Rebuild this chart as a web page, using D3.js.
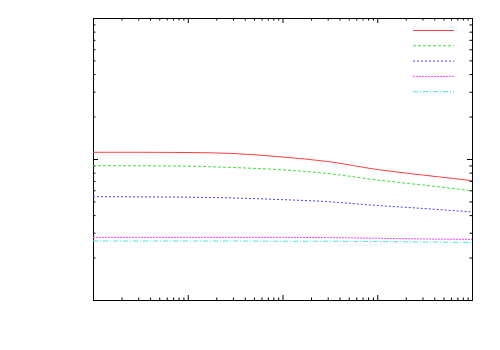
<!DOCTYPE html>
<html>
<head>
<meta charset="utf-8">
<script src="https://cdn.jsdelivr.net/npm/d3@7"></script>
<style>
  body { margin: 0; background: #fff; }
  svg { display: block; }
</style>
</head>
<body>
<div id="chart"></div>
<script>
// sample positions along the (log) x axis
const xValues = [1, 3, 10, 30, 100, 300, 1000, 3000, 10000];

// the five curves
const seriesRed = [1.116, 1.116, 1.112, 1.094, 1.033, 0.960, 0.842, 0.770, 0.702];
const seriesGreen = [0.896, 0.895, 0.889, 0.870, 0.838, 0.789, 0.710, 0.654, 0.596];
const seriesBlue = [0.540, 0.539, 0.536, 0.529, 0.515, 0.498, 0.468, 0.446, 0.421];
const seriesMagenta = [0.278, 0.278, 0.278, 0.278, 0.278, 0.277, 0.274, 0.271, 0.269];
const seriesCyan = [0.262, 0.262, 0.262, 0.262, 0.261, 0.261, 0.260, 0.258, 0.256];

const xDomain = [1, 10000];
const yDomain = [0.1, 10];

const width = 500, height = 350;
const margin = {top: 18, right: 28, bottom: 50, left: 93};

const svg = d3.select("#chart").append("svg")
    .attr("width", width)
    .attr("height", height);

const x = d3.scaleLog().domain(xDomain).range([margin.left, width - margin.right]);
const y = d3.scaleLog().domain(yDomain).range([height - margin.bottom, margin.top]);

// major / minor ticks for a log axis
function logTicks(domain) {
    let major = [], minor = [];
    let lo = Math.round(Math.log10(domain[0])), hi = Math.round(Math.log10(domain[1]));
    for (let e = lo; e <= hi; e++) {
        major.push(Math.pow(10, e));
        if (e < hi) {
            for (let m = 2; m <= 9; m++) minor.push(m * Math.pow(10, e));
        }
    }
    return {major, minor};
}

const xt = logTicks(xDomain);
const yt = logTicks(yDomain);

// draw ticks on all four sides, pointing inward
function addAxis(axisFn, scale, vals, size, transform) {
    svg.append("g")
        .attr("transform", transform)
        .call(axisFn(scale).tickValues(vals).tickSize(-size).tickFormat(""))
        .call(g => g.select(".domain").remove())
        .call(g => g.selectAll("line").attr("stroke", "#000").attr("stroke-width", 1));
}

const x0 = margin.left, x1 = width - margin.right;
const y0 = height - margin.bottom, y1 = margin.top;

addAxis(d3.axisBottom, x, xt.minor, 2.5, `translate(0,${y0})`);
addAxis(d3.axisBottom, x, xt.major.slice(1, -1), 5, `translate(0,${y0})`);
addAxis(d3.axisTop, x, xt.minor, 2.5, `translate(0,${y1})`);
addAxis(d3.axisTop, x, xt.major.slice(1, -1), 5, `translate(0,${y1})`);
addAxis(d3.axisLeft, y, yt.minor, 2.5, `translate(${x0},0)`);
addAxis(d3.axisLeft, y, yt.major.slice(1, -1), 5, `translate(${x0},0)`);
addAxis(d3.axisRight, y, yt.minor, 2.5, `translate(${x1},0)`);
addAxis(d3.axisRight, y, yt.major.slice(1, -1), 5, `translate(${x1},0)`);

// border
svg.append("rect")
    .attr("x", x0 + 0.5)
    .attr("y", y1 + 0.5)
    .attr("width", x1 - x0)
    .attr("height", y0 - y1)
    .attr("fill", "none")
    .attr("stroke", "#000")
    .attr("stroke-width", 1);

const series = [
    {values: seriesRed, color: "#ff4040", dash: null},
    {values: seriesGreen, color: "#40e040", dash: "3,2"},
    {values: seriesBlue, color: "#4040ff", dash: "2,2"},
    {values: seriesMagenta, color: "#ff40ff", dash: "2,1"},
    {values: seriesCyan, color: "#40e8e8", dash: "5,2,1,2"}
];

const line = d3.line()
    .x((d, i) => x(xValues[i]))
    .y(d => y(d))
    .curve(d3.curveMonotoneX);

series.forEach(s => {
    svg.append("path")
        .datum(s.values)
        .attr("fill", "none")
        .attr("stroke", s.color)
        .attr("stroke-width", 1)
        .attr("stroke-dasharray", s.dash)
        .attr("d", line);
});

// legend (samples only, no labels)
const legend = svg.append("g")
    .attr("transform", `translate(${x1 - 59},30)`);

legend.selectAll("line")
    .data(series)
    .enter().append("line")
    .attr("x1", 0)
    .attr("x2", 41)
    .attr("y1", (d, i) => i * 15.3 + 0.5)
    .attr("y2", (d, i) => i * 15.3 + 0.5)
    .attr("stroke", d => d.color)
    .attr("stroke-width", 1)
    .attr("stroke-dasharray", d => d.dash);
</script>
</body>
</html>
